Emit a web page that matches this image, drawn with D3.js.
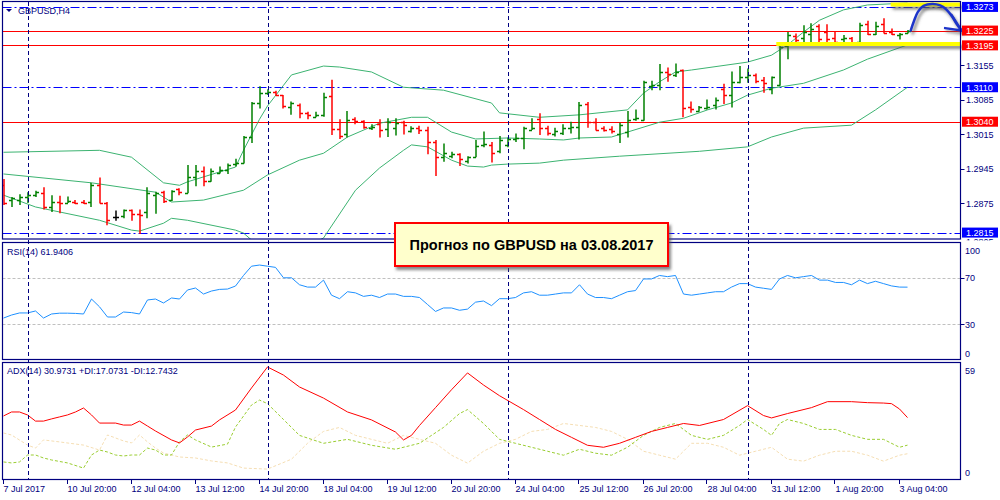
<!DOCTYPE html>
<html>
<head>
<meta charset="utf-8">
<script src="https://cdnjs.cloudflare.com/ajax/libs/d3/7.8.5/d3.min.js"></script>
<style>
body { margin: 0; background: #fff; }
svg text { font-family: 'Liberation Sans', Arial, sans-serif; }
</style>
</head>
<body>
<div id="chart"></div>
<script>
// H4 bars, oldest first
var opens = [1.2911,1.2881,1.2881,1.2887,1.2891,1.2896,1.2867,1.2877,1.2876,1.2877,
    1.2878,1.2877,1.2911,1.2875,1.2847,1.2848,1.2861,1.2853,1.2856,1.2891,
    1.2898,1.2881,1.2903,1.2896,1.2927,1.2940,1.2920,1.2936,1.2942,1.2954,
    1.2957,1.3008,1.3078,1.3099,1.3101,1.3094,1.3069,1.3074,1.3057,1.3050,
    1.3054,1.3092,1.3025,1.3016,1.3046,1.3041,1.3027,1.3036,1.3026,1.3027,
    1.3040,1.3022,1.3027,1.3023,1.2999,1.2969,1.2971,1.2975,1.2961,1.2969,
    1.2993,1.2993,1.2980,1.2993,1.3004,1.3006,1.3024,1.3045,1.3027,1.3016,
    1.3018,1.3027,1.3029,1.3076,1.3040,1.3028,1.3025,1.3016,1.3020,1.3045,
    1.3043,1.3113,1.3115,1.3140,1.3135,1.3146,1.3069,1.3062,1.3067,1.3074,
    1.3106,1.3095,1.3121,1.3131,1.3135,1.3125,1.3106,1.3115,1.3193,1.3214,
    1.3209,1.3219,1.3234,1.3223,1.3209,1.3207,1.3209,1.3202,1.3238,1.3219,
    1.3238,1.3223,1.3216,1.3221];
var highs = [1.2924,1.2887,1.2893,1.2897,1.2900,1.2907,1.2891,1.2890,1.2888,1.2881,
    1.2881,1.2916,1.2927,1.2877,1.2860,1.2862,1.2862,1.2862,1.2907,1.2898,
    1.2900,1.2901,1.2905,1.2952,1.2952,1.2949,1.2945,1.2949,1.2955,1.2965,
    1.3011,1.3080,1.3112,1.3106,1.3103,1.3094,1.3081,1.3077,1.3060,1.3060,
    1.3099,1.3125,1.3045,1.3062,1.3049,1.3043,1.3035,1.3045,1.3047,1.3047,
    1.3042,1.3031,1.3032,1.3030,1.3003,1.2996,1.2979,1.2976,1.2970,1.3003,
    1.3020,1.2999,1.3011,1.3008,1.3016,1.3030,1.3047,1.3057,1.3032,1.3028,
    1.3035,1.3040,1.3080,1.3080,1.3047,1.3031,1.3031,1.3038,1.3062,1.3065,
    1.3123,1.3123,1.3157,1.3150,1.3158,1.3146,1.3081,1.3072,1.3085,1.3089,
    1.3117,1.3142,1.3153,1.3148,1.3138,1.3131,1.3132,1.3198,1.3222,1.3219,
    1.3236,1.3240,1.3238,1.3238,1.3223,1.3216,1.3212,1.3241,1.3245,1.3243,
    1.3250,1.3229,1.3220,1.3226];
var lows = [1.2871,1.2867,1.2871,1.2875,1.2887,1.2862,1.2857,1.2854,1.2875,1.2873,
    1.2873,1.2867,1.2874,1.2830,1.2839,1.2844,1.2839,1.2812,1.2844,1.2853,
    1.2875,1.2879,1.2891,1.2895,1.2909,1.2909,1.2918,1.2935,1.2934,1.2949,
    1.2955,1.2997,1.3067,1.3094,1.3092,1.3067,1.3054,1.3047,1.3045,1.3049,
    1.3050,1.3013,1.3005,1.3008,1.3035,1.3026,1.3023,1.3008,1.3009,1.3012,
    1.3014,1.3018,1.3015,1.2974,1.2930,1.2959,1.2966,1.2950,1.2955,1.2968,
    1.2988,1.2957,1.2976,1.2988,1.2999,1.2984,1.3023,1.3013,1.3012,1.3010,
    1.3013,1.3016,1.3004,1.3028,1.3022,1.3020,1.3016,1.2997,1.3008,1.3042,
    1.3042,1.3104,1.3104,1.3121,1.3131,1.3049,1.3058,1.3060,1.3065,1.3065,
    1.3076,1.3069,1.3118,1.3119,1.3118,1.3099,1.3096,1.3113,1.3167,1.3196,
    1.3196,1.3199,1.3196,1.3199,1.3200,1.3200,1.3196,1.3200,1.3216,1.3216,
    1.3219,1.3216,1.3207,1.3219];
var closes = [1.2875,1.2885,1.2888,1.2891,1.2897,1.2866,1.2877,1.2875,1.2880,1.2876,
    1.2875,1.2911,1.2875,1.2840,1.2847,1.2861,1.2853,1.2850,1.2895,1.2896,
    1.2880,1.2900,1.2898,1.2927,1.2940,1.2920,1.2940,1.2943,1.2952,1.2957,
    1.3008,1.3078,1.3099,1.3101,1.3094,1.3071,1.3077,1.3057,1.3054,1.3054,
    1.3091,1.3025,1.3012,1.3043,1.3041,1.3030,1.3030,1.3024,1.3040,1.3037,
    1.3033,1.3027,1.3023,1.2999,1.2969,1.2976,1.2975,1.2964,1.2968,1.2991,
    1.2995,1.2977,1.3003,1.3004,1.3006,1.3027,1.3027,1.3027,1.3018,1.3022,
    1.3027,1.3029,1.3074,1.3040,1.3023,1.3023,1.3022,1.3033,1.3043,1.3047,
    1.3121,1.3115,1.3140,1.3137,1.3140,1.3067,1.3065,1.3069,1.3070,1.3085,
    1.3094,1.3120,1.3131,1.3135,1.3123,1.3119,1.3130,1.3192,1.3216,1.3206,
    1.3223,1.3229,1.3207,1.3207,1.3202,1.3209,1.3200,1.3236,1.3218,1.3234,
    1.3221,1.3219,1.3219,1.3224];

// Bollinger bands (20), read at these bar indices
var bbUpperIdx = [0,12,16,20,22,23,29,30,32,33,35,36,40,42,46,50,55,61,62,67,72,78,80,82,84,86,93,96,98,100,102,105,108,113];
var bbUpper = [1.2978,1.2982,1.2968,1.2916,1.2911,1.2918,1.2948,1.2982,1.3045,1.3072,1.3114,1.3135,1.3153,1.3151,1.3141,1.3110,1.3104,1.3078,1.3058,1.3049,1.3054,1.3064,1.3098,1.3121,1.3141,1.3145,1.3161,1.3175,1.3196,1.3222,1.3246,1.3267,1.3277,1.3281];
var bbMidIdx = [0,11,19,21,25,30,33,37,40,43,47,51,53,56,59,63,67,70,72,76,78,82,85,88,91,93,96,100,105,108,113];
var bbMid = [1.2934,1.2916,1.2897,1.2877,1.2881,1.2901,1.2932,1.2962,1.2976,1.3009,1.3037,1.3049,1.3049,1.3019,1.3005,1.3007,1.3005,1.3003,1.3007,1.3009,1.3019,1.3039,1.3047,1.3064,1.3078,1.3094,1.3108,1.3118,1.3145,1.3167,1.3196];
var bbLowIdx = [0,4,12,16,17,20,21,23,29,30,31,34,37,40,44,47,50,51,53,56,58,60,61,63,67,70,77,87,93,96,100,106,109,113];
var bbLow = [1.2891,1.2867,1.2840,1.2820,1.2818,1.2834,1.2844,1.2840,1.2820,1.2814,1.2800,1.2775,1.2780,1.2804,1.2901,1.2946,1.2982,1.2993,1.2989,1.2962,1.2950,1.2948,1.2952,1.2954,1.2956,1.2962,1.2970,1.2980,1.2989,1.3009,1.3027,1.3033,1.3064,1.3110];

// RSI(14), one value per bar
var rsi = [35.3,37.9,39.7,39.7,41.4,35.3,38.8,39.5,39.5,39.3,
    38.8,51.7,45,36.2,36.2,40.5,40.0,38.8,50.9,51.7,
    48.3,52.6,51.7,59.5,61.2,56.0,58.6,60,60.3,62.9,
    72,80,81,80,79,70,70,64,62,62,
    68,55,52,58,57,54,55,53,56,56,
    54,54,53,47,41,44,44,42,43,49,
    50,46,52,52,53,57,58,55,55,56,
    57,57,64,56,53,53,52,55,58,59,
    69,69,72,71,72,56,55,56,57,58,
    58,62,65,65,62,61,60,69,72,70,
    71,72,68,68,66,66,64,68,65,67,
    65,63,62,61.94];

// ADX(14) with +DI / -DI, read at these bar indices
var adxIdx = [0,1,2,3,4,5,6,7,8,9,10,11,12,14,15,16,17,18,19,21,22,23,24,26,27,29,31,33,35,37,40,43,46,49,50,51,52,54,56,58,60,62,65,67,69,71,73,75,77,79,81,83,85,87,90,93,95,96,98,101,103,106,108,110,111,112,113];
var adx = [31.8,33.8,33.8,32.3,29.2,29.2,30.3,31.3,32.3,33.8,35.8,32.3,28.2,28.2,27.2,27.2,29.2,26.7,24.2,19.7,18.2,21.2,24.7,26.7,29.8,34.8,45.9,56.5,52.4,46.4,40.8,33.8,29.8,23.7,19.7,22,27,36,45,53.5,47.4,42,35,30,25,21,17,16,18,21,24,26,28,27,30,37,32,30.8,33,36,39,39,38.5,38.3,38,35.3,30.97];
var plusDiIdx = [0,1,2,3,4,5,6,8,10,11,12,13,14,15,16,17,18,19,20,21,22,23,24,26,28,29,31,32,33,35,37,40,43,46,49,52,55,57,58,60,62,64,66,68,70,72,74,76,78,80,82,84,86,88,90,92,93,95,96,97,98,100,102,104,106,108,110,112,113];
var plusDi = [8.6,8.1,8.6,12.1,12.1,10.6,9.6,8.1,5.5,12.1,14.6,13.6,12.1,11.6,12.1,12.1,15.6,14.6,12.1,12.1,18.7,22.2,19.7,16.1,17.6,26.2,37.3,39.8,38,30,22,18,20,17,15,18,26,33,35,28,20,18,16,14,12,15,13,12,16,22,26,28,22,20,22,27,30,25,22,28,30,28,25,25,22,20,20,16,17.07];
var minusDiIdx = [0,1,3,4,5,7,10,12,13,15,16,17,18,19,20,22,24,26,28,30,33,36,38,40,42,44,46,48,50,52,54,56,58,60,62,64,66,68,70,72,74,76,78,80,82,84,86,88,90,92,94,96,98,100,102,104,106,108,110,112,113];
var minusDi = [23.2,22.2,17.1,15.6,19.7,18.7,17.1,14.6,22.2,19.2,18.2,22.2,18.7,15.6,13.1,11.1,10.6,9.1,8.1,5.5,5,10,18,24,26,22,20,18,22,20,18,12,8,14,18,20,24,25,28,27,26,24,20,14,12,10,18,18,16,12,14,16,10,9,12,14,14,12,9,12,12.74];

// axes
var xTickLabels = ['7 Jul 2017','10 Jul 20:00','12 Jul 04:00','13 Jul 12:00','14 Jul 20:00','18 Jul 04:00','19 Jul 12:00','20 Jul 20:00','24 Jul 04:00','25 Jul 12:00','26 Jul 20:00','28 Jul 04:00','31 Jul 12:00','1 Aug 20:00','3 Aug 04:00'];
var xTickBars = [0,8,16,24,32,40,48,56,64,72,80,88,96,104,112];
var priceTicks = [1.3155,1.3085,1.3015,1.2945,1.2875];
var lastPriceTick = 1.2805;
var separatorBars = [3,33,63,93];
var resistanceLevels = [1.3225,1.3195,1.3040];
var channelLevels = [1.3273,1.3110,1.2815];

var width = 1000, height = 500;
var left = 2.5, right = 960.5;
var navy = '#000080';

var svg = d3.select('#chart')
    .append('svg')
    .attr('width', width)
    .attr('height', height);

var defs = svg.append('defs');
var shadow = defs.append('filter').attr('id', 'shadow')
    .attr('x', '-20%').attr('y', '-50%').attr('width', '140%').attr('height', '200%');
shadow.append('feDropShadow')
    .attr('dx', 2).attr('dy', 3).attr('stdDeviation', 1.5)
    .attr('flood-color', '#555').attr('flood-opacity', 0.7);

function clip(id, y0, y1) {
    defs.append('clipPath').attr('id', id)
        .append('rect')
        .attr('x', left).attr('y', y0)
        .attr('width', right - left).attr('height', y1 - y0);
}
clip('clipMain', 1.5, 239);
clip('clipRsi', 242.5, 359.5);
clip('clipAdx', 362.5, 479.5);
// the lowest price label is cut off by the panel gap
defs.append('clipPath').attr('id', 'clipLast')
    .append('rect').attr('x', 961).attr('y', 236.5).attr('width', 39).attr('height', 4);

// scales
var x_scale = d3.scaleLinear().domain([0, 113]).range([3.5, 907.5]);
var y_price = d3.scaleLinear().domain([1.2803, 1.3283]).range([238.5, 2]);
var y_rsi = d3.scaleLinear().domain([0, 100]).range([359, 243]);
var y_adx = d3.scaleLinear().domain([0, 59]).range([479, 362]);

function px(v) { return Math.round(v) + 0.5; }

var main = svg.append('g').attr('clip-path', 'url(#clipMain)');
var rsiG = svg.append('g').attr('clip-path', 'url(#clipRsi)');
var adxG = svg.append('g').attr('clip-path', 'url(#clipAdx)');

// horizontal levels
main.selectAll('line.res')
    .data(resistanceLevels)
    .enter()
    .append('line')
    .attr('x1', left).attr('x2', right)
    .attr('y1', function(d){ return px(y_price(d)); })
    .attr('y2', function(d){ return px(y_price(d)); })
    .attr('stroke', '#ff0000')
    .attr('stroke-width', 1);

main.selectAll('line.chan')
    .data(channelLevels)
    .enter()
    .append('line')
    .attr('x1', left).attr('x2', right)
    .attr('y1', function(d){ return px(y_price(d)); })
    .attr('y2', function(d){ return px(y_price(d)); })
    .attr('stroke', '#0000ff')
    .attr('stroke-width', 1)
    .attr('stroke-dasharray', '9,3,2,3');

// period separators through all three panels
svg.selectAll('line.sep')
    .data(separatorBars)
    .enter()
    .append('line')
    .attr('x1', function(d){ return px(x_scale(d)); })
    .attr('x2', function(d){ return px(x_scale(d)); })
    .attr('y1', 2).attr('y2', 479)
    .attr('stroke', navy)
    .attr('stroke-width', 1)
    .attr('stroke-dasharray', '4,3');

// Bollinger bands
function bandLine(idx, vals) {
    var pts = idx.map(function(d, i){ return [x_scale(d), y_price(vals[i])]; });
    return d3.line()(pts);
}
[[bbUpperIdx, bbUpper], [bbMidIdx, bbMid], [bbLowIdx, bbLow]].forEach(function(b){
    main.append('path')
        .attr('d', bandLine(b[0], b[1]))
        .attr('fill', 'none')
        .attr('stroke', '#3cb371')
        .attr('stroke-width', 1);
});

// OHLC bars
var barData = d3.range(opens.length).map(function(i){
    return {i: i, o: opens[i], h: highs[i], l: lows[i], c: closes[i]};
});
function barColor(d) {
    if (d.c > d.o) return '#008000';
    if (d.c < d.o) return '#ff0000';
    return '#000000';
}
var bars = main.selectAll('g.bar')
    .data(barData)
    .enter()
    .append('g')
    .attr('stroke', barColor)
    .attr('stroke-width', 1.5);
bars.append('line')
    .attr('x1', function(d){ return Math.round(x_scale(d.i)); })
    .attr('x2', function(d){ return Math.round(x_scale(d.i)); })
    .attr('y1', function(d){ return y_price(d.h); })
    .attr('y2', function(d){ return y_price(d.l); });
bars.append('line')
    .attr('x1', function(d){ return Math.round(x_scale(d.i)) - 3; })
    .attr('x2', function(d){ return Math.round(x_scale(d.i)); })
    .attr('y1', function(d){ return px(y_price(d.o)); })
    .attr('y2', function(d){ return px(y_price(d.o)); });
bars.append('line')
    .attr('x1', function(d){ return Math.round(x_scale(d.i)); })
    .attr('x2', function(d){ return Math.round(x_scale(d.i)) + 3; })
    .attr('y1', function(d){ return px(y_price(d.c)); })
    .attr('y2', function(d){ return px(y_price(d.c)); });

// hand-drawn highlights: yellow marks and forecast arrow
var marks = svg.append('g').attr('filter', 'url(#shadow)');
marks.append('line')
    .attr('x1', x_scale(96.6)).attr('x2', right)
    .attr('y1', y_price(1.3198)).attr('y2', y_price(1.3198))
    .attr('stroke', '#ffff00').attr('stroke-width', 4);
marks.append('line')
    .attr('x1', x_scale(110.9)).attr('x2', right)
    .attr('y1', y_price(1.3278)).attr('y2', y_price(1.3278))
    .attr('stroke', '#ffff00').attr('stroke-width', 4);

var arrowPts = [[113.4,1.3225],[113.8,1.3244],[114.3,1.3263],[115,1.3275],[116.1,1.3279],
    [117.1,1.3276],[117.9,1.3267],[118.6,1.3253],[119.2,1.3237],[119.75,1.3225]];
var arrowLine = d3.line()
    .x(function(d){ return x_scale(d[0]); })
    .y(function(d){ return y_price(d[1]); })
    .curve(d3.curveCatmullRom);
var arrow = svg.append('g').attr('filter', 'url(#shadow)')
    .attr('fill', 'none').attr('stroke', '#1f35c9')
    .attr('stroke-width', 2.5).attr('stroke-linecap', 'round');
arrow.append('path').attr('d', arrowLine(arrowPts));
arrow.append('path').attr('d', arrowLine.curve(d3.curveLinear)([[117.7,1.3230],[119.75,1.3225]]));
arrow.append('path').attr('d', arrowLine([[118.5,1.3257],[119.75,1.3225]]));

// RSI panel
rsiG.selectAll('line.lvl')
    .data([70, 30])
    .enter()
    .append('line')
    .attr('x1', left).attr('x2', right)
    .attr('y1', function(d){ return px(y_rsi(d)); })
    .attr('y2', function(d){ return px(y_rsi(d)); })
    .attr('stroke', '#c0c0c0')
    .attr('stroke-dasharray', '3,2');
rsiG.append('path')
    .attr('d', d3.line()
        .x(function(d, i){ return x_scale(i); })
        .y(function(d){ return y_rsi(d); })(rsi))
    .attr('fill', 'none')
    .attr('stroke', '#1e90ff')
    .attr('stroke-width', 1);

// ADX panel
function adxLine(idx, vals) {
    return d3.line()(idx.map(function(d, i){ return [x_scale(d), y_adx(vals[i])]; }));
}
adxG.append('path').attr('d', adxLine(minusDiIdx, minusDi))
    .attr('fill', 'none').attr('stroke', '#f5deb3').attr('stroke-dasharray', '3,2');
adxG.append('path').attr('d', adxLine(plusDiIdx, plusDi))
    .attr('fill', 'none').attr('stroke', '#9acd32').attr('stroke-dasharray', '3,2');
adxG.append('path').attr('d', adxLine(adxIdx, adx))
    .attr('fill', 'none').attr('stroke', '#ff0000').attr('stroke-width', 1);

// panel frames
[[1.5, 239], [242.5, 359.5], [362.5, 479.5]].forEach(function(p){
    svg.append('rect')
        .attr('x', left).attr('y', p[0])
        .attr('width', right - left).attr('height', p[1] - p[0])
        .attr('fill', 'none')
        .attr('stroke', navy)
        .attr('stroke-width', 1.2);
});

// price axis
svg.selectAll('line.ptick')
    .data(priceTicks)
    .enter()
    .append('line')
    .attr('x1', right).attr('x2', right + 4)
    .attr('y1', function(d){ return px(y_price(d)); })
    .attr('y2', function(d){ return px(y_price(d)); })
    .attr('stroke', navy);
svg.selectAll('text.ptick')
    .data(priceTicks)
    .enter()
    .append('text')
    .attr('x', 966)
    .attr('y', function(d){ return y_price(d) + 3.5; })
    .attr('font-size', 9)
    .attr('fill', navy)
    .text(function(d){ return d.toFixed(4); });
svg.append('text')
    .attr('clip-path', 'url(#clipLast)')
    .attr('x', 966)
    .attr('y', 245)
    .attr('font-size', 9)
    .attr('fill', navy)
    .text(lastPriceTick.toFixed(4));

// level tags on the price axis
function tag(level, color) {
    var y = y_price(level);
    svg.append('rect')
        .attr('x', 962).attr('y', y - 5)
        .attr('width', 36).attr('height', 10)
        .attr('fill', color);
    svg.append('text')
        .attr('x', 966).attr('y', y + 3.5)
        .attr('font-size', 9)
        .attr('fill', '#fff')
        .text(level.toFixed(4));
}
channelLevels.forEach(function(d){ tag(d, '#0000ff'); });
resistanceLevels.forEach(function(d){ tag(d, '#ff0000'); });

// RSI / ADX axis labels
var rsiLabels = [100, 70, 30, 0];
svg.selectAll('text.rsi')
    .data(rsiLabels)
    .enter()
    .append('text')
    .attr('x', 965)
    .attr('y', function(d){ return Math.min(Math.max(y_rsi(d), 250), 353) + 3.5; })
    .attr('font-size', 9)
    .attr('fill', navy)
    .text(function(d){ return d; });
svg.selectAll('line.rsitick')
    .data([70, 30])
    .enter()
    .append('line')
    .attr('x1', right).attr('x2', right + 4)
    .attr('y1', function(d){ return px(y_rsi(d)); })
    .attr('y2', function(d){ return px(y_rsi(d)); })
    .attr('stroke', navy);
svg.selectAll('text.adx')
    .data([59, 0])
    .enter()
    .append('text')
    .attr('x', 965)
    .attr('y', function(d){ return Math.min(Math.max(y_adx(d), 370), 472) + 3.5; })
    .attr('font-size', 9)
    .attr('fill', navy)
    .text(function(d){ return d; });

// time axis
svg.selectAll('line.xtick')
    .data(xTickBars)
    .enter()
    .append('line')
    .attr('x1', function(d){ return px(x_scale(d)) - 1; })
    .attr('x2', function(d){ return px(x_scale(d)) - 1; })
    .attr('y1', 479.5).attr('y2', 484)
    .attr('stroke', navy);
svg.selectAll('text.xtick')
    .data(xTickLabels)
    .enter()
    .append('text')
    .attr('x', function(d, i){ return x_scale(xTickBars[i]); })
    .attr('y', 492)
    .attr('font-size', 9)
    .attr('fill', navy)
    .text(function(d){ return d; });

// panel titles
svg.append('path')
    .attr('d', 'M6,9 L12,9 L9,12 Z')
    .attr('fill', navy);
svg.append('text').attr('x', 18).attr('y', 14)
    .attr('font-size', 9).attr('fill', navy).text('GBPUSD,H4');
svg.append('text').attr('x', 7).attr('y', 255)
    .attr('font-size', 9).attr('fill', navy).text('RSI(14) 61.9406');
svg.append('text').attr('x', 7).attr('y', 374)
    .attr('font-size', 9).attr('fill', navy).text('ADX(14) 30.9731 +DI:17.0731 -DI:12.7432');

// forecast note
var note = svg.append('g');
note.append('rect')
    .attr('x', 395).attr('y', 223)
    .attr('width', 273).attr('height', 43)
    .attr('fill', '#ffffcc')
    .attr('stroke', '#ff0000')
    .attr('stroke-width', 2)
    .attr('filter', 'url(#shadow)');
note.append('text')
    .attr('x', 531.5).attr('y', 250)
    .attr('text-anchor', 'middle')
    .attr('font-size', 14.5)
    .attr('font-weight', 'bold')
    .attr('fill', '#000')
    .text('Прогноз по GBPUSD на 03.08.2017');
</script>
</body>
</html>
